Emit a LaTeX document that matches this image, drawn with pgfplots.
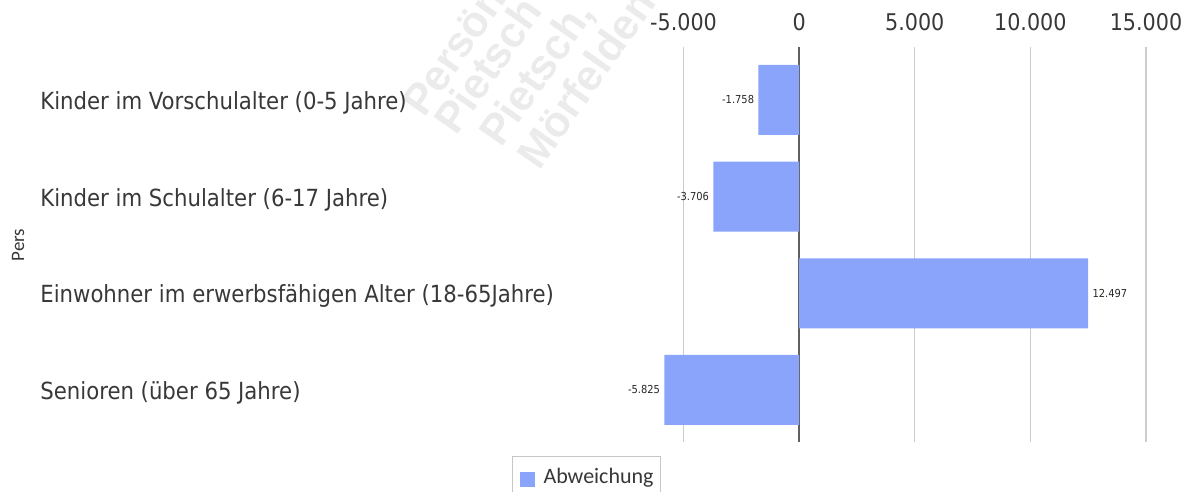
\documentclass[border=0pt]{standalone}
\usepackage{fontspec}
\setmainfont{DejaVu Sans Condensed}
\newfontfamily\carlito{Carlito}
\newfontfamily\wmfont{Liberation Sans}
\usepackage{pgfplots}
\pgfplotsset{compat=1.18}
\definecolor{barblue}{HTML}{8AA4FC}
\definecolor{gridgray}{HTML}{CCCCCC}
\definecolor{txtgray}{HTML}{383838}
\definecolor{zerogray}{HTML}{606060}
\begin{document}
\begin{tikzpicture}
\useasboundingbox (0,0) rectangle (597pt,246pt);
\begin{scope}[every node/.style={font=\wmfont\bfseries\fontsize{21.5}{22}\selectfont, text=gray!16, rotate=55, anchor=base west, inner sep=0pt}]
\node at (212pt,186.5pt) {Persönliche Kopie};
\node at (228pt,177.5pt) {Pietsch};
\node at (250.5pt,171.5pt) {Pietsch,};
\node at (269.5pt,160pt) {Mörfelden};
\end{scope}
\begin{axis}[
  at={(324.4pt,25pt)}, anchor=south west,
  scale only axis, width=248.6pt, height=197.5pt,
  xbar, bar width=35pt,
  xmin=-6500, xmax=15000,
  ymin=-0.538, ymax=3.548,
  axis line style={draw=none},
  xtick={-5000,0,5000,10000,15000},
  xticklabels={-5.000,0,5.000,10.000,15.000},
  xticklabel pos=upper,
  xticklabel style={font=\fontsize{11.5}{13}\selectfont, text=txtgray, anchor=base, inner sep=0pt, yshift=8.25pt},
  ytick={0,1,2,3},
  yticklabels={Senioren (über 65 Jahre), Einwohner im erwerbsfähigen Alter (18-65Jahre), Kinder im Schulalter (6-17 Jahre), Kinder im Vorschulalter (0-5 Jahre)},
  yticklabel style={font=\fontsize{11.8}{14}\selectfont, text=txtgray, anchor=west, inner sep=0pt, xshift=-304.4pt, yshift=-1.5pt},
  major tick length=0pt,
  xmajorgrids, grid style={gridgray, line width=0.6pt},
  extra x ticks={0}, extra x tick labels={},
  extra x tick style={grid style={zerogray, line width=1pt}},
  ylabel={Pers},
  ylabel style={at={(axis description cs:-1.2687,0.4987)}, anchor=center, font=\carlito\fontsize{9.5}{11}\selectfont, text=txtgray},
  point meta=x,
  nodes near coords={\pgfmathprintnumber{\pgfplotspointmeta}},
  nodes near coords style={font=\fontsize{5.5}{6}\selectfont, text=black!85, inner sep=2pt},
  /pgf/number format/.cd, 1000 sep={.}, assume math mode=true, /pgfplots/.cd,
  legend style={at={(axis description cs:-0.2751,-0.0354)}, anchor=north west, draw=gray!45, line width=0.5pt, font=\carlito\fontsize{11}{13}\selectfont, text=txtgray, inner xsep=3.5pt, inner ysep=4.5pt, nodes={inner sep=0pt, text height=9pt, text depth=5pt}, /tikz/every odd column/.append style={column sep=4.5pt}},
  legend image code/.code={\fill[barblue] (0pt,-3.75pt) rectangle (7.5pt,3.75pt);},
]
\addplot[fill=barblue, draw=none] coordinates {(-1758,3) (-3706,2) (12497,1) (-5825,0)};
\addlegendentry{Abweichung}
\end{axis}
\end{tikzpicture}
\end{document}
